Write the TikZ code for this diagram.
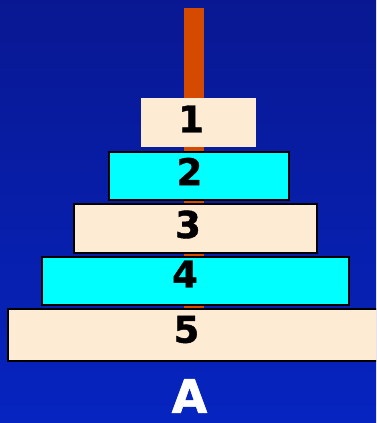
\documentclass[tikz,border=0pt]{standalone}
\usepackage{fontspec}
\setsansfont{DejaVu Sans}
\newfontfamily\numfont{DejaVu Sans}[BoldFeatures={FakeBold=1.2}]
\usetikzlibrary{positioning}
\definecolor{bgtop}{RGB}{9,24,146}
\definecolor{bgbot}{RGB}{6,36,192}
\definecolor{diskbeige}{RGB}{253,235,212}
\definecolor{diskcyan}{RGB}{0,255,255}
\definecolor{polecol}{RGB}{212,74,0}
\tikzset{
  disk/.style={rectangle,inner sep=0pt,draw=black,line width=2pt},
  numtext/.style={font=\numfont\bfseries\fontsize{37}{40}\selectfont,text=black,inner sep=0pt},
  towerlbl/.style={font=\numfont\bfseries\fontsize{46}{50}\selectfont,text=white,inner sep=0pt}
}
\begin{document}
\begin{tikzpicture}[x=1pt,y=-1pt]
\useasboundingbox (0,0) rectangle (376,423);
\clip (0,0) rectangle (376,423);
%% Background
\shade[top color=bgtop,bottom color=bgbot] (0,0) rectangle (376,423);
%% Pole
\node[rectangle,fill=polecol,inner sep=0pt,minimum width=20pt,minimum height=302pt]
  (pole) at (193.7,159) {};
%% Disks
\foreach \n/\cx/\cy/\w/\h/\col/\tx/\ty in {
    2/199/175.5/180/48/diskcyan/189.5/171.5,
    3/195.5/228/243/49/diskbeige/188/224.5,
    4/195.5/280.5/307/48/diskcyan/185/274,
    5/200/335/384/52/diskbeige/186.5/329.5} {
  \node[disk,fill=\col,minimum width=\w pt,minimum height=\h pt] (disk\n) at (\cx,\cy) {};
  \node[numtext] (num\n) at (\tx,\ty) {\n};
}
\node[rectangle,inner sep=0pt,fill=diskbeige,minimum width=115pt,minimum height=49pt]
  (disk1) at (198.5,122.5) {};
\node[numtext] (num1) at (191,119) {1};
%% Tower label
\node[towerlbl] (lblA) at (189.5,396) {A};
\end{tikzpicture}
\end{document}
